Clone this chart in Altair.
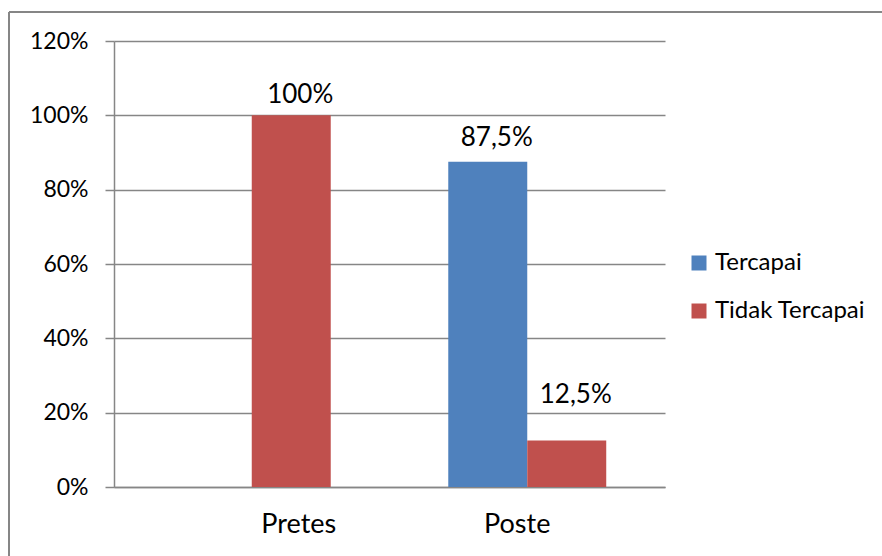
import altair as alt
import pandas as pd

# Achievement shares per test, by status
tests = ["Pretes", "Pretes", "Poste", "Poste"]
statuses = ["Tercapai", "Tidak Tercapai", "Tercapai", "Tidak Tercapai"]
values = [0.0, 1.0, 0.875, 0.125]
labels = ["", "100%", "87,5%", "12,5%"]

test_order = ["Pretes", "Poste"]
status_order = ["Tercapai", "Tidak Tercapai"]
status_colors = ["#4F81BD", "#C0504D"]
y_ticks = [0, 0.2, 0.4, 0.6, 0.8, 1.0, 1.2]

df = pd.DataFrame({"test": tests, "status": statuses, "value": values, "label": labels})

FONT = "Lato"
W, H = 551, 446
PAD_L, PAD_T = 114, 41

x_enc = alt.X("test:N", sort=test_order,
              scale=alt.Scale(paddingInner=0, paddingOuter=0),
              axis=alt.Axis(title=None, labelAngle=0, ticks=False, domain=True,
                            domainColor="#868686", domainWidth=1.5, grid=False,
                            labelFontSize=27, labelFont=FONT, labelColor="#000000",
                            labelPadding=24,
                            labelOffset=alt.ExprRef("datum.value === 'Pretes' ? 47 : -10")))
xoff = alt.XOffset("status:N", sort=status_order,
                   scale=alt.Scale(paddingInner=0, paddingOuter=0.744))
y_enc = alt.Y("value:Q",
              scale=alt.Scale(domain=[0, 1.2], nice=False),
              axis=alt.Axis(title=None, values=y_ticks, format=".0%",
                            grid=True, gridColor="#868686", gridWidth=1.5,
                            domain=True, domainColor="#868686", domainWidth=1.5,
                            ticks=True, tickSize=9, tickColor="#868686", tickWidth=1.5,
                            labelFontSize=23, labelFont=FONT, labelColor="#000000",
                            labelPadding=17))

bars = alt.Chart(df).mark_bar().encode(
    x=x_enc,
    xOffset=xoff,
    y=y_enc,
    color=alt.Color("status:N", sort=status_order,
                    scale=alt.Scale(domain=status_order, range=status_colors),
                    legend=alt.Legend(title=None, orient="none", legendX=573, legendY=210,
                                      symbolType="square", symbolSize=225,
                                      symbolStrokeWidth=0, labelFontSize=24,
                                      labelFont=FONT, labelColor="#000000",
                                      rowPadding=24, labelOffset=4)),
)

def value_label(test, status, dy):
    return alt.Chart(df).transform_filter(
        (alt.datum.test == test) & (alt.datum.status == status)
    ).mark_text(fontSize=26, font=FONT, color="#000000", baseline="alphabetic",
                dy=dy, dx=9).encode(
        x=alt.X("test:N", sort=test_order),
        xOffset=alt.XOffset("status:N", sort=status_order),
        y=alt.Y("value:Q"),
        text="label:N",
    )

texts = (value_label("Pretes", "Tidak Tercapai", -12)
         + value_label("Poste", "Tercapai", -16)
         + value_label("Poste", "Tidak Tercapai", -38))

# Outer frame around the chart (top and left edges)
frame_top = alt.Chart(df).mark_rule(color="#868686", strokeWidth=2).encode(
    x=alt.value(9 - PAD_L), x2=alt.value(882 - PAD_L), y=alt.value(12 - PAD_T))
frame_left = alt.Chart(df).mark_rule(color="#868686", strokeWidth=2).encode(
    x=alt.value(9 - PAD_L), y=alt.value(12 - PAD_T), y2=alt.value(556 - PAD_T))

chart = alt.layer(bars, texts, frame_top, frame_left).properties(
    width=W, height=H,
    autosize=alt.AutoSizeParams(type="none"),
    padding={"left": PAD_L, "top": PAD_T, "right": 882 - PAD_L - W, "bottom": 556 - PAD_T - H},
    background="#FFFFFF",
).configure_view(stroke=None)

chart.save("out.html", embed_options={"renderer": "svg", "actions": False})
